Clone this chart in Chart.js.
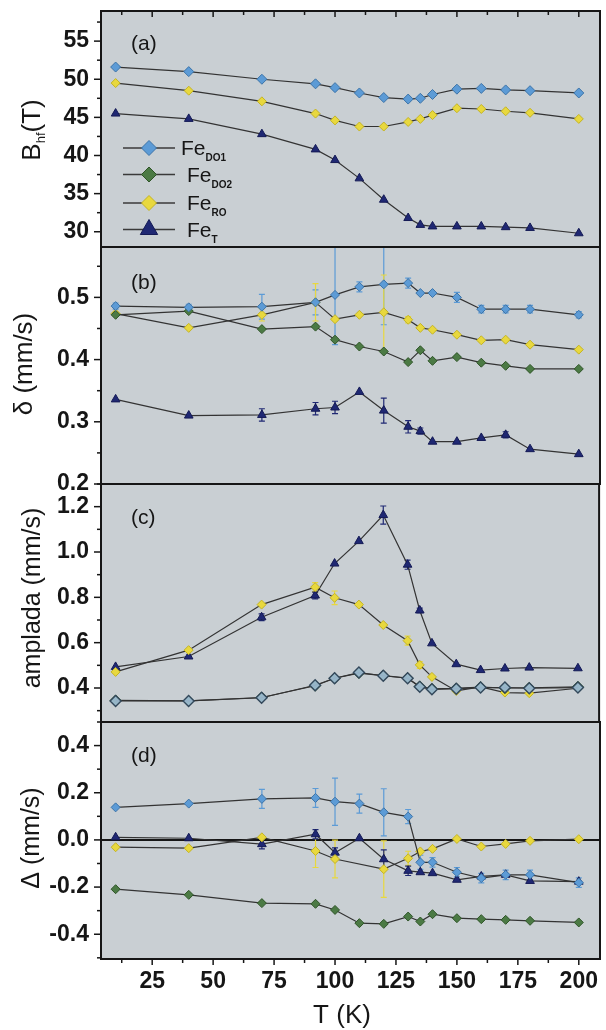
<!DOCTYPE html>
<html>
<head>
<meta charset="utf-8">
<title>Fe sites vs temperature</title>
<script src="https://cdn.jsdelivr.net/npm/chart.js@4.4.0/dist/chart.umd.min.js"></script>
<style>
  html, body { margin: 0; padding: 0; background: #fff; }
  #fig { position: relative; width: 606px; height: 1030px; }
  #fig canvas { position: absolute; left: 0; top: 0; }
</style>
</head>
<body>
<div id="fig">
  <canvas id="panelA" width="606" height="1030"></canvas>
  <canvas id="panelB" width="606" height="1030"></canvas>
  <canvas id="panelC" width="606" height="1030"></canvas>
  <canvas id="panelD" width="606" height="1030"></canvas>
</div>
<script>
// measurement temperatures (K)
const temps = [10, 40, 70, 92, 100, 110, 120, 130, 135, 140, 150, 160, 170, 180, 200];
const siteNames = ['DO1', 'DO2', 'RO', 'T'];

// (a) hyperfine field Bhf (T)
const bhfDO1 = [51.6, 51.0, 50.0, 49.4, 48.9, 48.2, 47.6, 47.4, 47.5, 48.0, 48.7, 48.8, 48.6, 48.5, 48.2];
const bhfRO  = [49.5, 48.5, 47.1, 45.5, 44.6, 43.8, 43.8, 44.4, 44.8, 45.3, 46.2, 46.1, 45.8, 45.6, 44.8];
const bhfT   = [45.5, 44.8, 42.8, 40.8, 39.4, 37.0, 34.2, 31.8, 30.9, 30.7, 30.7, 30.7, 30.6, 30.5, 29.8];

// (b) isomer shift delta (mm/s)
const isoDO1 = [0.486, 0.484, 0.485, 0.492, 0.504, 0.517, 0.521, 0.523, 0.507, 0.507, 0.500, 0.481, 0.481, 0.481, 0.472];
const isoDO2 = [0.472, 0.478, 0.449, 0.453, 0.432, 0.421, 0.413, 0.396, 0.415, 0.398, 0.404, 0.395, 0.390, 0.385, 0.385];
const isoRO  = [0.474, 0.451, 0.472, 0.492, 0.465, 0.472, 0.476, 0.464, 0.451, 0.448, 0.440, 0.431, 0.432, 0.424, 0.416];
const isoT   = [0.336, 0.310, 0.311, 0.321, 0.323, 0.348, 0.318, 0.292, 0.285, 0.268, 0.268, 0.274, 0.279, 0.256, 0.248];
const isoDO1Err = [0.005, 0.005, 0.02, 0.02, 0.08, 0.008, 0.065, 0.008, 0, 0, 0.008, 0.006, 0.006, 0.006, 0.005];
const isoROErr  = [0, 0, 0.01, 0.03, 0, 0, 0.06, 0.005, 0, 0, 0, 0, 0, 0, 0];
const isoTErr   = [0, 0, 0.01, 0.01, 0.01, 0, 0.02, 0.01, 0.005, 0, 0, 0, 0.005, 0, 0];

// (c) line width "amplada" (mm/s)
const ampDO1 = [0.343, 0.343, 0.357, 0.412, 0.443, 0.468, 0.454, 0.443, 0.405, 0.394, 0.397, 0.402, 0.402, 0.399, 0.402];
const ampDO2 = [0.345, 0.343, 0.358, 0.410, 0.443, 0.466, 0.455, 0.444, 0.407, 0.396, 0.398, 0.404, 0.400, 0.401, 0.405];
const ampRO  = [0.471, 0.567, 0.768, 0.845, 0.798, 0.768, 0.678, 0.609, 0.502, 0.449, 0.387, 0.405, 0.380, 0.377, 0.399];
const ampT   = [0.493, 0.539, 0.712, 0.808, 0.949, 1.048, 1.163, 0.944, 0.742, 0.597, 0.505, 0.479, 0.486, 0.490, 0.487];
const ampROErr = [0, 0, 0, 0.02, 0.03, 0, 0, 0.02, 0.015, 0, 0, 0, 0, 0, 0];
const ampTErr  = [0, 0, 0.015, 0.015, 0, 0, 0.04, 0.02, 0.01, 0, 0, 0, 0, 0, 0];

// (d) quadrupole shift Delta (mm/s)
const qsDO1 = [0.138, 0.154, 0.174, 0.178, 0.162, 0.154, 0.117, 0.099, -0.095, -0.095, -0.137, -0.162, -0.148, -0.148, -0.181];
const qsDO2 = [-0.209, -0.233, -0.268, -0.271, -0.297, -0.353, -0.356, -0.325, -0.346, -0.315, -0.332, -0.336, -0.339, -0.343, -0.350];
const qsRO  = [-0.031, -0.035, 0.011, -0.047, -0.081, null, -0.124, -0.078, -0.049, -0.038, 0.004, -0.028, -0.017, -0.004, 0.003];
const qsT   = [0.011, 0.007, -0.018, 0.024, -0.054, 0.007, -0.082, -0.131, -0.137, -0.141, -0.169, -0.155, -0.148, -0.174, -0.177];
const qsDO1Err = [0, 0, 0.04, 0.04, 0.1, 0.04, 0.1, 0.03, 0.03, 0.02, 0.02, 0.02, 0.02, 0.02, 0.02];
const qsROErr  = [0, 0, 0, 0.07, 0.08, 0, 0.12, 0.03, 0, 0, 0, 0, 0, 0, 0];
const qsTErr   = [0, 0, 0.02, 0.02, 0.02, 0, 0.04, 0.02, 0, 0, 0, 0, 0, 0, 0];

const FONT = '"Liberation Sans", Arial, sans-serif';
const INK = '#161616';
const fills = ['#5c9bd6', '#4b7a44', '#e8d83e', '#1f2873'];
const edges = ['#3d74a8', '#2f5528', '#c4b424', '#141a55'];
const shapes = ['rectRot', 'rectRot', 'rectRot', 'triangle'];

Chart.defaults.font.family = FONT;
Chart.defaults.color = INK;

const panels = [
  {
    id: 'panelA', top: 11, bottom: 247, min: 28, max: 58.95, major: 5, minor: 2.5, dec: 0,
    tag: '(a)', tagY: 50, series: [bhfDO1, [], bhfRO, bhfT], errs: [],
    radius: [5, 5, 4.5, 5], xTicks: 'top', legend: true,
    title: [{ t: 'B', s: 26 }, { t: 'hf', s: 13, dy: 5 }, { t: '(T)', s: 26 }], titleX: 40, titleY: 130
  },
  {
    id: 'panelB', top: 247, bottom: 484, min: 0.2, max: 0.581, major: 0.1, minor: 0.05, dec: 1,
    tag: '(b)', tagY: 289, series: [isoDO1, isoDO2, isoRO, isoT], errs: [isoDO1Err, null, isoROErr, isoTErr],
    radius: [4.5, 4.5, 4.5, 5],
    title: [{ t: 'δ (mm/s)', s: 26 }], titleX: 32, titleY: 364
  },
  {
    id: 'panelC', top: 484, bottom: 722, min: 0.25, max: 1.30, major: 0.2, minor: 0.1, dec: 1,
    tag: '(c)', tagY: 524, series: [ampDO1, ampDO2, ampRO, ampT], errs: [null, null, ampROErr, ampTErr],
    radius: [5.5, 5.5, 4.5, 5], hollowDO: true,
    title: [{ t: 'amplada (mm/s)', s: 25 }], titleX: 40, titleY: 598
  },
  {
    id: 'panelD', top: 722, bottom: 959, min: -0.505, max: 0.5, major: 0.2, minor: 0.1, dec: 1,
    tag: '(d)', tagY: 762, series: [qsDO1, qsDO2, qsRO, qsT], errs: [qsDO1Err, null, qsROErr, qsTErr],
    radius: [4.5, 4.5, 4.5, 5], zeroLine: true, xTicks: 'bottom', axis: true,
    title: [{ t: 'Δ (mm/s)', s: 25 }], titleX: 39, titleY: 838
  }
];

const isMult = (v, step) => Math.abs(v / step - Math.round(v / step)) < 1e-6;

function panelPlugin(p) {
  return {
    id: 'panelDecor',
    beforeDraw(chart) {
      const { ctx, chartArea: a } = chart;
      ctx.save();
      ctx.fillStyle = '#c9cfd3';
      ctx.fillRect(a.left, a.top, a.right - a.left, a.bottom - a.top);
      ctx.restore();
    },
    beforeDatasetsDraw(chart) {
      const { ctx, chartArea: a, scales: { x, y } } = chart;
      ctx.save();
      ctx.beginPath();
      ctx.rect(a.left, a.top, a.right - a.left, a.bottom - a.top);
      ctx.clip();
      if (p.zeroLine) {
        const py = y.getPixelForValue(0);
        ctx.strokeStyle = INK;
        ctx.lineWidth = 2;
        ctx.beginPath();
        ctx.moveTo(a.left, py);
        ctx.lineTo(a.right, py);
        ctx.stroke();
      }
      // error bars with small caps
      chart.data.datasets.forEach((ds) => {
        if (!ds.errs) return;
        ctx.strokeStyle = ds.errColor;
        ctx.lineWidth = 1.2;
        ds.data.forEach((pt, i) => {
          const e = ds.errs[i];
          if (!e || pt.y == null) return;
          const px = x.getPixelForValue(pt.x);
          const y1 = y.getPixelForValue(pt.y + e);
          const y2 = y.getPixelForValue(pt.y - e);
          ctx.beginPath();
          ctx.moveTo(px, y1); ctx.lineTo(px, y2);
          ctx.moveTo(px - 3, y1); ctx.lineTo(px + 3, y1);
          ctx.moveTo(px - 3, y2); ctx.lineTo(px + 3, y2);
          ctx.stroke();
        });
      });
      ctx.restore();
    },
    afterDraw(chart) {
      const { ctx, chartArea: a, scales: { x, y } } = chart;
      ctx.save();
      ctx.strokeStyle = INK;
      ctx.lineWidth = 2;
      ctx.strokeRect(a.left, a.top, a.right - a.left, a.bottom - a.top);

      // y ticks, pointing out
      ctx.lineWidth = 1.5;
      for (let k = Math.ceil(p.min / p.minor - 1e-9); k * p.minor <= p.max + 1e-9; k++) {
        const v = k * p.minor;
        const len = isMult(v, p.major) ? 7 : 4;
        const py = y.getPixelForValue(v);
        ctx.beginPath();
        ctx.moveTo(a.left - len, py);
        ctx.lineTo(a.left, py);
        ctx.stroke();
      }
      // x ticks: inside along the top of (a), outside under (d)
      if (p.xTicks) {
        const y0 = p.xTicks === 'top' ? a.top : a.bottom;
        for (let k = 1; k * 12.5 < x.max; k++) {
          const px = x.getPixelForValue(k * 12.5);
          const len = k % 2 === 0 ? 6 : 4;
          ctx.beginPath();
          ctx.moveTo(px, y0);
          ctx.lineTo(px, y0 + len);
          ctx.stroke();
        }
      }

      ctx.fillStyle = INK;
      ctx.textBaseline = 'alphabetic';
      ctx.font = `21px ${FONT}`;
      ctx.textAlign = 'left';
      ctx.fillText(p.tag, 131, p.tagY);

      // rotated y title, drawn piece by piece for the subscript
      ctx.save();
      ctx.translate(p.titleX, p.titleY);
      ctx.rotate(-Math.PI / 2);
      let total = 0;
      p.title.forEach((seg) => {
        ctx.font = `${seg.s}px ${FONT}`;
        seg.w = ctx.measureText(seg.t).width;
        total += seg.w;
      });
      let lx = -total / 2;
      p.title.forEach((seg) => {
        ctx.font = `${seg.s}px ${FONT}`;
        ctx.fillText(seg.t, lx, seg.dy || 0);
        lx += seg.w;
      });
      ctx.restore();

      if (p.axis) {
        ctx.font = `26px ${FONT}`;
        ctx.textAlign = 'center';
        ctx.fillText('T (K)', 342, 1023);
      }

      if (p.legend) {
        const rows = [148, 174.5, 203, 229.5];
        const textX = [181, 187, 187, 187];
        chart.data.datasets.forEach((ds, i) => {
          const ry = rows[i];
          ctx.strokeStyle = '#3a3a3a';
          ctx.lineWidth = 1.3;
          ctx.beginPath();
          ctx.moveTo(123, ry);
          ctx.lineTo(175, ry);
          ctx.stroke();
          ctx.fillStyle = ds.pointBackgroundColor;
          ctx.strokeStyle = ds.pointBorderColor;
          ctx.lineWidth = 1;
          Chart.helpers.drawPoint(ctx, {
            pointStyle: ds.pointStyle, rotation: 0,
            radius: ds.pointStyle === 'triangle' ? 10 : 7.5, borderWidth: 1
          }, 149, ry);
          ctx.fillStyle = INK;
          ctx.textAlign = 'left';
          ctx.font = `21px ${FONT}`;
          ctx.fillText('Fe', textX[i], ry + 7);
          const fw = ctx.measureText('Fe').width;
          ctx.font = `bold 10px ${FONT}`;
          ctx.fillText(siteNames[i], textX[i] + fw, ry + 13);
        });
      }
      ctx.restore();
    }
  };
}

function buildDatasets(p) {
  return p.series.map((vals, i) => {
    let fill = fills[i];
    let edge = edges[i];
    if (p.hollowDO && i === 0) { fill = 'rgba(160,190,215,0.9)'; edge = '#34495c'; }
    return {
      label: 'Fe' + siteNames[i],
      data: vals.map((v, j) => ({ x: temps[j], y: v })),
      errs: p.errs[i] || null,
      errColor: i === 3 ? '#1f2873' : fills[i],
      borderColor: '#333333',
      borderWidth: 1.2,
      tension: 0,
      spanGaps: true,
      pointStyle: shapes[i],
      pointRadius: p.radius[i],
      pointBackgroundColor: fill,
      pointBorderColor: edge,
      pointBorderWidth: p.hollowDO && i === 0 ? 1.4 : 1
    };
  });
}

// the axes keep fixed sizes so the four plot frames line up
function fixAxis(s, size) {
  if (s.isHorizontal()) s.height = size; else s.width = size;
  s.paddingTop = 0; s.paddingBottom = 0; s.paddingLeft = 0; s.paddingRight = 0;
}

panels.forEach((p) => {
  new Chart(document.getElementById(p.id), {
    type: 'line',
    data: { datasets: buildDatasets(p) },
    options: {
      responsive: false,
      animation: false,
      devicePixelRatio: 1,
      events: [],
      layout: { padding: { top: p.top, bottom: p.axis ? 0 : 1030 - p.bottom, left: 0, right: 2 } },
      plugins: { legend: { display: false }, tooltip: { enabled: false } },
      scales: {
        x: {
          type: 'linear', min: 4, max: 208.7,
          display: !!p.axis,
          grid: { display: false, drawTicks: false },
          border: { display: false },
          afterFit: (s) => fixAxis(s, p.axis ? 71 : 0),
          ticks: {
            stepSize: 25, includeBounds: false, autoSkip: false, maxRotation: 0, padding: 9,
            font: { size: 23, weight: 'bold' }, color: INK,
            callback: (v) => String(Math.round(v))
          }
        },
        y: {
          type: 'linear', min: p.min, max: p.max,
          grid: { display: false, drawTicks: false },
          border: { display: false },
          afterFit: (s) => fixAxis(s, 101),
          ticks: {
            stepSize: p.major, includeBounds: false, autoSkip: false, padding: 12,
            font: { size: 23, weight: 'bold' }, color: INK,
            callback: (v) => (Math.abs(v) < 1e-9 ? 0 : v).toFixed(p.dec)
          }
        }
      }
    },
    plugins: [panelPlugin(p)]
  });
});
</script>
</body>
</html>
